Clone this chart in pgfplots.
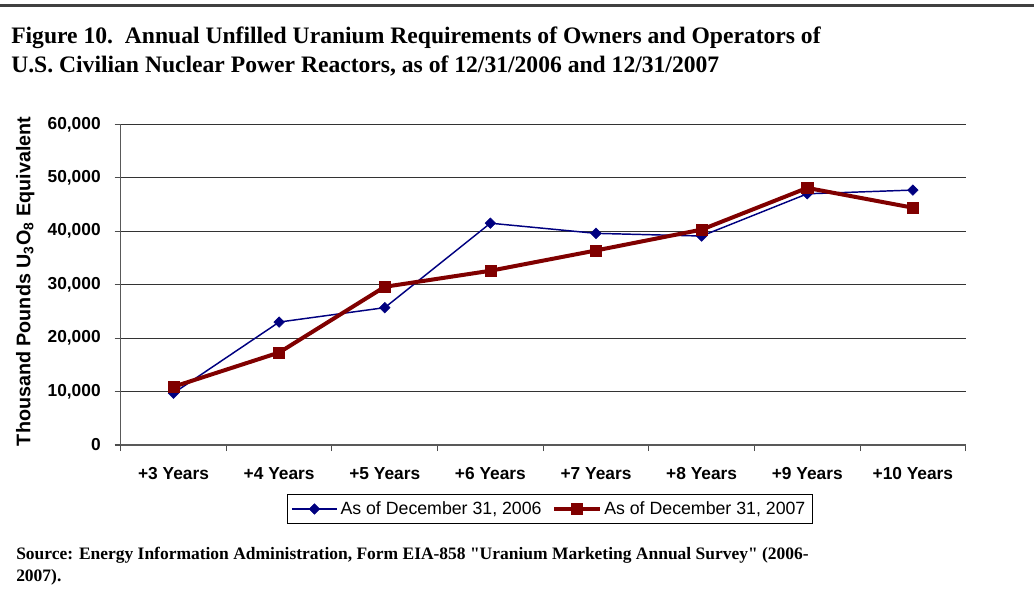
\documentclass[border=0pt]{standalone}
\usepackage{pgfplots}
\usepackage{pgfplotstable}
\pgfplotsset{compat=1.18}
\usepackage{fontspec}
\setmainfont{Liberation Sans}
\newfontfamily\timesfont{Liberation Serif}
\definecolor{navyA}{RGB}{0,0,128}
\definecolor{maroonA}{RGB}{128,0,0}

\pgfplotstableread{
x y
0 9700
1 23000
2 25700
3 41500
4 39600
5 39100
6 47000
7 47700
}\dataA

\pgfplotstableread{
x y
0 10900
1 17300
2 29600
3 32600
4 36400
5 40300
6 48100
7 44400
}\dataB

\begin{document}
\begin{tikzpicture}
\begin{axis}[
  name=ax,
  scale only axis, width=633.75pt, height=240.5pt,
  xmin=-0.5, xmax=7.5, ymin=0, ymax=60000,
  axis x line*=bottom, axis y line*=left,
  axis line style={black!65, line width=0.9pt},
  xtick={0,...,7},
  xticklabels={+3 Years,+4 Years,+5 Years,+6 Years,+7 Years,+8 Years,+9 Years,+10 Years},
  minor xtick={-0.5,0.5,...,7.5},
  major x tick style={draw=none},
  minor x tick style={black!70, line width=0.8pt},
  minor tick length=4.5pt,
  ytick={0,10000,...,60000},
  scaled y ticks=false,
  major tick length=4.5pt,
  y tick style={black!70, line width=0.8pt},
  tick align=outside,
  ymajorgrids,
  major grid style={black!80, line width=0.75pt},
  /pgf/number format/1000 sep={,},
  /pgf/number format/assume math mode=true,
  tick label style={font=\bfseries\fontsize{13}{15}\selectfont},
  xticklabel style={yshift=-8.5pt, text height=9.5pt, text depth=2.5pt},
  yticklabel style={xshift=-7pt},
  ylabel={Thousand Pounds U\textsubscript{3}O\textsubscript{8} Equivalent},
  ylabel style={at={(axis description cs:-0.113,0.51)}, anchor=center, font=\bfseries\fontsize{14.8}{17}\selectfont},
  legend style={at={(axis description cs:0.5075,-0.1996)}, anchor=center, draw=black, line width=0.75pt,
    font=\fontsize{13.3}{15}\selectfont, inner xsep=3pt, inner ysep=3.5pt},
  legend columns=2,
  legend cell align=left,
  /tikz/every even column/.append style={column sep=6pt},
  legend image code/.code={\draw[mark repeat=2,mark phase=2,#1] plot coordinates {(0pt,0pt) (17pt,0pt) (34pt,0pt)};},
]
\addplot[navyA, line width=1.1pt, mark=square*, mark size=2.8pt, mark options={solid, rotate=45, fill=navyA, line width=0.4pt}] table[x=x,y=y] {\dataA};
\addlegendentry{As of December 31, 2006}
\addplot[maroonA, line width=3pt, mark=square*, mark size=4.2pt, mark options={solid, fill=maroonA, line width=0.4pt}] table[x=x,y=y] {\dataB};
\addlegendentry{As of December 31, 2007}
\end{axis}
\begin{scope}[shift={(ax.south west)}, x=0.75pt, y=0.75pt]
\path[use as bounding box] (-120.7,-154) rectangle (913.3,445);
\draw[line width=2.1pt, black!75] (-120.7,439.5) -- (913.3,439.5);
\node[anchor=base west, inner sep=0, font=\timesfont\bfseries\fontsize{17.7}{20}\selectfont] at (-109.7,401) {Figure 10.\ \ Annual Unfilled Uranium Requirements of Owners and Operators of};
\node[anchor=base west, inner sep=0, font=\timesfont\bfseries\fontsize{17.7}{20}\selectfont] at (-109.7,372.3) {U.S. Civilian Nuclear Power Reactors, as of 12/31/2006 and 12/31/2007};
\node[anchor=base west, inner sep=0, font=\timesfont\bfseries\fontsize{13.1}{15}\selectfont] at (-104.7,-114.3) {Source: Energy Information Administration, Form EIA-858 "Uranium Marketing Annual Survey" (2006-};
\node[anchor=base west, inner sep=0, font=\timesfont\bfseries\fontsize{13.1}{15}\selectfont] at (-104.7,-136.7) {2007).};
\end{scope}
\end{tikzpicture}
\end{document}
